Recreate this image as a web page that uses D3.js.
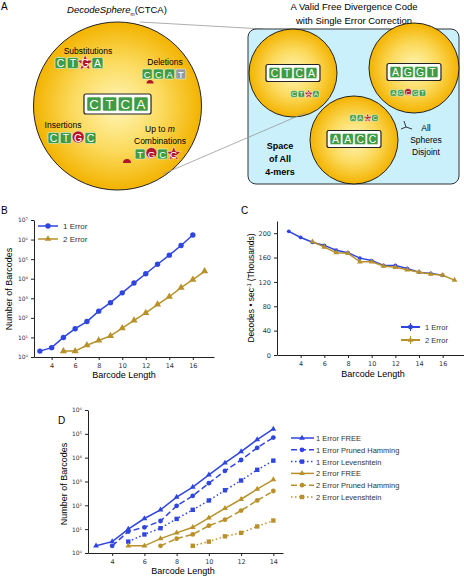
<!DOCTYPE html>
<html><head><meta charset="utf-8">
<script src="https://cdn.jsdelivr.net/npm/d3@7"></script>
<style>body{margin:0;background:#fff}text{font-family:"Liberation Sans",Arial,sans-serif}.tick text{font-family:"DejaVu Sans",sans-serif}</style>
</head><body><svg id="fig" width="464" height="577"></svg>
<script>
// ---- data ----
const lenB1 = [3,4,5,6,7,8,9,10,11,12,13,14,15,16];
const valB1 = [2,3,10,28,65,220,600,1900,6000,18000,55000,160000,500000,1700000];
const lenB2 = [5,6,7,8,9,10,11,12,13,14,15,16,17];
const valB2 = [2,2,4,7,12,30,75,180,480,1200,3500,9000,24000];

const lenC1 = [3,4,5,6,7,8,9,10,11,12,13,14,15,16];
const rateC1 = [203,193,185,180,172,168,159,155,147,147,142,136,134,131];
const lenC2 = [5,6,7,8,9,10,11,12,13,14,15,16,17];
const rateC2 = [186,177,168,167,153,153,146,144,140,136,133,131,123];

const seriesD = [
  {name:"1 Error FREE", x:[3,4,5,6,7,8,9,10,11,12,13,14], y:[2,3,10,28,65,220,580,1900,6000,18000,57000,160000], c:0, dash:null, m:"tri"},
  {name:"1 Error Pruned Hamming", x:[4,5,6,7,8,9,10,11,12,13,14], y:[2,8,12,22,95,250,850,2800,8000,26000,70000], c:0, dash:"6,3", m:"circ"},
  {name:"1 Error Levenshtein", x:[5,6,7,8,9,10,11,12,13,14], y:[3,6,11,27,65,160,430,1100,3100,7500], c:0, dash:"1.5,2.5", m:"sq"},
  {name:"2 Error FREE", x:[5,6,7,8,9,10,11,12,13,14], y:[2,2,4,7,12,30,75,180,480,1200], c:1, dash:null, m:"tri"},
  {name:"2 Error Pruned Hamming", x:[7,8,9,10,11,12,13,14], y:[2,4,6,14,25,60,160,400], c:1, dash:"6,3", m:"circ"},
  {name:"2 Error Levenshtein", x:[9,10,11,12,13,14], y:[2,3,5,7,13,23], c:1, dash:"1.5,2.5", m:"sq"}
];
const colors = ["#2f45e0","#b8912a"];

const svg = d3.select("#fig");
const defs = svg.append("defs");
const rg = defs.append("radialGradient").attr("id","sun");
rg.append("stop").attr("offset","0%").attr("stop-color","#fff6b8");
rg.append("stop").attr("offset","55%").attr("stop-color","#fbd95a");
rg.append("stop").attr("offset","100%").attr("stop-color","#f3b300");

function label(t,x,y){svg.append("text").attr("x",x).attr("y",y).attr("font-size",10).text(t);}

// ---- panel A ----
label("A",1,10);
const t = svg.append("text").attr("x",117).attr("y",13).attr("text-anchor","middle").attr("font-size",9.5);
t.append("tspan").attr("font-style","italic").text("DecodeSphere");
t.append("tspan").attr("font-size",5).attr("dy",3).text("m");
t.append("tspan").attr("dy",-3).text("(CTCA)");
["A Valid Free Divergence Code","with Single Error Correction"].forEach((s,i)=>
  svg.append("text").attr("x",354).attr("y",10+i*14).attr("text-anchor","middle").attr("font-size",9.5).text(s));

svg.append("line").attr("x1",140).attr("y1",22).attr("x2",263).attr("y2",29).attr("stroke","#999").attr("stroke-width",0.8);
svg.append("rect").attr("x",248).attr("y",29).attr("width",211).attr("height",155).attr("rx",8)
  .attr("fill","#c9f0fb").attr("stroke","#333").attr("stroke-width",1);
svg.append("circle").attr("cx",117.5).attr("cy",106).attr("r",84).attr("fill","url(#sun)").attr("stroke","#222").attr("stroke-width",1);
[[293,73,44],[414,68,45],[354,140,44]].forEach(([x,y,r])=>
  svg.append("circle").attr("cx",x).attr("cy",y).attr("r",r).attr("fill","url(#sun)").attr("stroke","#222").attr("stroke-width",1));
svg.append("line").attr("x1",163).attr("y1",174).attr("x2",305).attr("y2",113).attr("stroke","#999").attr("stroke-width",0.8);

function star(cx,cy,r){
  const p=d3.range(10).map(i=>{const a=-Math.PI/2+i*Math.PI/5, rr=i%2?r*0.45:r;return [cx+rr*Math.cos(a),cy+rr*Math.sin(a)];});
  svg.append("polygon").attr("points",p.join(" ")).attr("fill","#b0182a").attr("stroke","#fff").attr("stroke-width",0.5);
}
// tiles: each item [letter, kind]; kind g=green, x=grey, s=star, c=red circle, h=half (deletion mark)
function tiles(x0,y,s,items,boxed){
  const gap=s*0.12, w=items.length*(s+gap)-gap;
  if(boxed) svg.append("rect").attr("x",x0-w/2-3).attr("y",y-s/2-3).attr("width",w+6).attr("height",s+6).attr("rx",2)
    .attr("fill","#fff").attr("stroke","#222").attr("stroke-width",1.2);
  items.forEach(([l,k],i)=>{
    const cx=x0-w/2+i*(s+gap)+s/2;
    if(k==="s"){star(cx,y,s*0.75);}
    else if(k==="c"){svg.append("circle").attr("cx",cx).attr("cy",y-1).attr("r",s*0.55).attr("fill","#b0182a").attr("stroke","#fff").attr("stroke-width",0.5);}
    else if(k==="h"){svg.append("path").attr("d",`M${cx-s*0.5},${y+s*0.5} a${s*0.5},${s*0.5} 0 0 1 ${s},0 z`).attr("fill","#b0182a");return;}
    else svg.append("rect").attr("x",cx-s/2).attr("y",y-s/2).attr("width",s).attr("height",s).attr("rx",1.5)
      .attr("fill",k==="x"?"#9a9a9a":"#3f9b45").attr("stroke","#e8f5e0").attr("stroke-width",0.6);
    svg.append("text").attr("x",cx).attr("y",y+s*0.36).attr("text-anchor","middle").attr("font-size",s*0.95)
      .attr("fill","#fff").text(l);
  });
}
function small(t,x,y,fs,anchor,bold){svg.append("text").attr("x",x).attr("y",y).attr("font-size",fs)
  .attr("text-anchor",anchor||"middle").attr("font-weight",bold?"bold":null).text(t);}

small("Substitutions",88,54,8.5);
tiles(79,63,11,[["C"],["T"],["G","s"],["A"]]);
small("Deletions",165,65,8.5);
tiles(164,74,10,[["C"],["C"],["A"],["T","x"]]);
tiles(150,80,7,[["","h"]]);
tiles(117.5,104,14,[["C"],["T"],["C"],["A"]],true);
small("Insertions",63,128,8.5);
tiles(72,138,11,[["C"],["T"],["G","c"],["C"]]);
const um=svg.append("text").attr("x",160).attr("y",132).attr("font-size",8.5).attr("text-anchor","middle");
um.append("tspan").text("Up to ");um.append("tspan").attr("font-style","italic").text("m");
small("Combinations",160,144,8.5);
tiles(157,154,10,[["T"],["G","c"],["C"],["G","s"]]);
tiles(127,159,8,[["","h"]]);

tiles(293,73,11,[["C"],["T"],["C"],["A"]],true);
tiles(305,94,6.5,[["C"],["T"],["A","s"],["A"]]);
tiles(414,72,11,[["A"],["G"],["G"],["T"]],true);
tiles(408,93,6.5,[["A"],["G"],["C","c"],["G"],["T"]]);
tiles(354,139,11,[["A"],["A"],["C"],["C"]],true);
tiles(364,118,6.5,[["A"],["A"],["G","s"],["C"]]);
["Space","of All","4-mers"].forEach((s,i)=>small(s,280,149+i*13,9,"middle",true));
["All","Spheres","Disjoint"].forEach((s,i)=>small(s,426,131+i*12,8.5,"middle"));
const ar=svg.append("g").attr("stroke","#222").attr("stroke-width",0.9);
ar.append("line").attr("x1",406).attr("y1",127).attr("x2",404).attr("y2",121);
ar.append("line").attr("x1",406).attr("y1",127).attr("x2",412).attr("y2",129);
ar.append("line").attr("x1",406).attr("y1",127).attr("x2",401).attr("y2",129);

// ---- shared axis styling ----
function styleAxis(g){g.selectAll("path,line").attr("stroke","#222");g.selectAll("text").attr("font-size",6.5).attr("fill","#333");}
const sup = n => String(n).split("").map(c=>"⁰¹²³⁴⁵⁶⁷⁸⁹"[+c]).join("");
function marker(g,type,x,y,c,s){
  if(type==="circ") g.append("circle").attr("cx",x).attr("cy",y).attr("r",s*0.6).attr("fill",c);
  else if(type==="sq") g.append("rect").attr("x",x-s*0.55).attr("y",y-s*0.55).attr("width",s*1.1).attr("height",s*1.1).attr("fill",c);
  else g.append("path").attr("d",d3.symbol(d3.symbolTriangle,s*s*0.9)()).attr("transform",`translate(${x},${y})`).attr("fill",c);
}
function series(g,x,y,xs,ys,c,dash,m,s){
  g.append("path").datum(xs.map((v,i)=>[v,ys[i]])).attr("fill","none").attr("stroke",c).attr("stroke-width",1.5)
    .attr("stroke-dasharray",dash).attr("d",d3.line().x(d=>x(d[0])).y(d=>y(d[1])));
  xs.forEach((v,i)=>marker(g,m,x(v),y(ys[i]),c,s));
}

// ---- panel B ----
label("B",1,214);
const xB=d3.scaleLinear().domain([2.5,17.8]).range([34,214]);
const yB=d3.scaleLog().domain([1,1e7]).range([357,220]);
svg.append("g").attr("transform","translate(0,357)").call(d3.axisBottom(xB).tickValues([4,6,8,10,12,14,16]).tickSize(3).tickSizeOuter(0)).call(styleAxis);
svg.append("g").attr("transform","translate(34,0)").call(d3.axisLeft(yB).tickValues([1,10,100,1e3,1e4,1e5,1e6,1e7]).tickSize(3).tickSizeOuter(0)
  .tickFormat(d=>"10"+sup(Math.round(Math.log10(d))))).call(styleAxis).selectAll("text").attr("font-size",6);
const gB=svg.append("g");
series(gB,xB,yB,lenB1,valB1,colors[0],null,"circ",4.5);
series(gB,xB,yB,lenB2,valB2,colors[1],null,"tri",5);
[["1 Error","circ"],["2 Error","tri"]].forEach(([n,m],i)=>{
  const yy=226+i*13;
  gB.append("line").attr("x1",38).attr("x2",58).attr("y1",yy).attr("y2",yy).attr("stroke",colors[i]).attr("stroke-width",1.5);
  marker(gB,m,48,yy,colors[i],4.5);
  gB.append("text").attr("x",63).attr("y",yy+3).attr("font-size",8).attr("fill","#333").text(n);
});
svg.append("text").attr("x",124).attr("y",378).attr("text-anchor","middle").attr("font-size",9).text("Barcode Length");
svg.append("text").attr("transform","translate(12,289) rotate(-90)").attr("text-anchor","middle").attr("font-size",9).text("Number of Barcodes");

// ---- panel C ----
label("C",241,214);
const xC=d3.scaleLinear().domain([2,17.8]).range([277,464]);
const yC=d3.scaleLinear().domain([0,220]).range([355,221]);
svg.append("g").attr("transform","translate(0,355)").call(d3.axisBottom(xC).tickValues([4,6,8,10,12,14,16]).tickSize(3).tickSizeOuter(0)).call(styleAxis);
svg.append("g").attr("transform","translate(277,0)").call(d3.axisLeft(yC).tickValues([0,40,80,120,160,200]).tickSize(3).tickSizeOuter(0)).call(styleAxis);
const gC=svg.append("g");
series(gC,xC,yC,lenC1,rateC1,colors[0],null,"circ",3.2);
series(gC,xC,yC,lenC2,rateC2,colors[1],null,"tri",4);
[["1 Error","circ"],["2 Error","tri"]].forEach(([n,m],i)=>{
  const yy=327+i*13;
  gC.append("line").attr("x1",401).attr("x2",420).attr("y1",yy).attr("y2",yy).attr("stroke",colors[i]).attr("stroke-width",2);
  gC.append("line").attr("x1",410.5).attr("x2",410.5).attr("y1",yy-4).attr("y2",yy+4).attr("stroke",colors[i]).attr("stroke-width",1);
  marker(gC,m,410.5,yy,colors[i],4);
  gC.append("text").attr("x",425).attr("y",yy+3).attr("font-size",7.5).attr("fill","#333").text(n);
});
svg.append("text").attr("x",373).attr("y",377).attr("text-anchor","middle").attr("font-size",9).text("Barcode Length");
svg.append("text").attr("transform","translate(254,288) rotate(-90)").attr("text-anchor","middle").attr("font-size",8.5)
  .html('Decodes • sec<tspan font-size="5" dy="-3">-1</tspan><tspan dy="3"> (Thousands)</tspan>');

// ---- panel D ----
label("D",58,424);
const xD=d3.scaleLinear().domain([2.5,14.6]).range([88,283]);
const yD=d3.scaleLog().domain([1,1e6]).range([553,410]);
svg.append("g").attr("transform","translate(0,553)").call(d3.axisBottom(xD).tickValues([4,6,8,10,12,14]).tickSize(3).tickSizeOuter(0)).call(styleAxis);
svg.append("g").attr("transform","translate(88,0)").call(d3.axisLeft(yD).tickValues([1,10,100,1e3,1e4,1e5,1e6]).tickSize(3).tickSizeOuter(0)
  .tickFormat(d=>"10"+sup(Math.round(Math.log10(d))))).call(styleAxis).selectAll("text").attr("font-size",6);
const gD=svg.append("g");
seriesD.forEach((s,i)=>{
  series(gD,xD,yD,s.x,s.y,colors[s.c],s.dash,s.m,4);
  const yy=438+i*11.8;
  gD.append("line").attr("x1",291).attr("x2",314).attr("y1",yy).attr("y2",yy).attr("stroke",colors[s.c]).attr("stroke-width",1.5).attr("stroke-dasharray",s.dash);
  marker(gD,s.m,302,yy,colors[s.c],4);
  gD.append("text").attr("x",316).attr("y",yy+3).attr("font-size",7.5).attr("fill","#333").text(s.name);
});
svg.append("text").attr("x",183).attr("y",574).attr("text-anchor","middle").attr("font-size",9).text("Barcode Length");
svg.append("text").attr("transform","translate(67,484) rotate(-90)").attr("text-anchor","middle").attr("font-size",9).text("Number of Barcodes");
</script></body></html>
